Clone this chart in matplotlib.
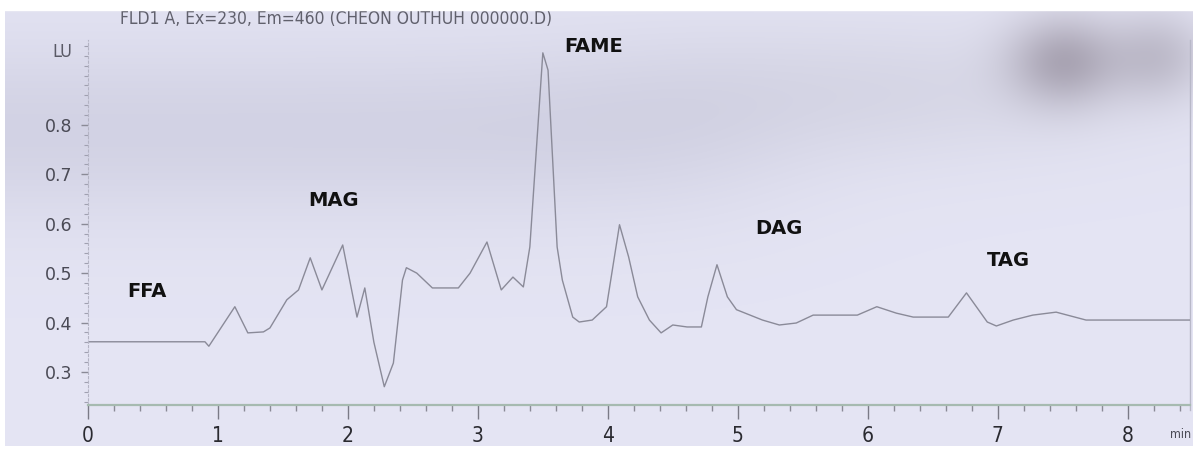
import numpy as np
import matplotlib
matplotlib.use("Agg")
import matplotlib.pyplot as plt
from matplotlib.ticker import MultipleLocator, FixedLocator

# ---- data ----
time_min = [0.00, 0.90, 0.93, 1.13, 1.23, 1.35, 1.40, 1.53, 1.62, 1.71, 1.80, 1.96,
            2.07, 2.13, 2.20, 2.28, 2.35, 2.42, 2.45, 2.53, 2.65, 2.85, 2.94, 3.07,
            3.18, 3.27, 3.35, 3.40, 3.50, 3.54, 3.61, 3.65, 3.73, 3.78, 3.88, 3.99,
            4.09, 4.16, 4.23, 4.32, 4.41, 4.50, 4.61, 4.72, 4.77, 4.84, 4.92, 4.99,
            5.19, 5.32, 5.45, 5.58, 5.92, 6.07, 6.22, 6.35, 6.62, 6.76, 6.92, 6.99,
            7.12, 7.27, 7.45, 7.68, 8.48]
signal_lu = [0.361, 0.361, 0.352, 0.432, 0.379, 0.381, 0.389, 0.446, 0.466, 0.531, 0.466, 0.557,
             0.411, 0.470, 0.360, 0.270, 0.318, 0.486, 0.511, 0.500, 0.470, 0.470, 0.500, 0.563,
             0.466, 0.492, 0.472, 0.553, 0.946, 0.911, 0.553, 0.486, 0.411, 0.401, 0.405, 0.432,
             0.598, 0.533, 0.452, 0.405, 0.379, 0.395, 0.391, 0.391, 0.452, 0.517, 0.452, 0.426,
             0.405, 0.395, 0.399, 0.415, 0.415, 0.432, 0.419, 0.411, 0.411, 0.460, 0.401, 0.393,
             0.405, 0.415, 0.421, 0.405, 0.405]

peak_labels = ["FFA", "MAG", "FAME", "DAG", "TAG"]
label_time = [0.45, 1.89, 3.89, 5.32, 7.08]
label_lu = [0.463, 0.648, 0.958, 0.590, 0.526]

x_ticks = [0, 1, 2, 3, 4, 5, 6, 7, 8]
x_ticklabels = ["0", "1", "2", "3", "4", "5", "6", "7", "8"]
y_ticks = [0.3, 0.4, 0.5, 0.6, 0.7, 0.8]
y_ticklabels = ["0.3", "0.4", "0.5", "0.6", "0.7", "0.8"]
title_text = "FLD1 A, Ex=230, Em=460 (CHEON OUTHUH 000000.D)"

W, H = 1193, 449
fig = plt.figure(figsize=(W / 100, H / 100), dpi=100)
fig.patch.set_facecolor("white")

def fy(py):
    return 1 - py / H

NARROW = dict(family="DejaVu Sans", stretch="condensed")

# ---- scanned paper background ----
bg = fig.add_axes([5 / W, 3 / H, (W - 5) / W, (446 - 10) / H])
bg.set_xlim(5, W)
bg.set_ylim(446, 10)
bg.axis("off")
gx, gy = np.meshgrid(np.linspace(5, W, 400), np.linspace(10, 446, 200))
base = np.array([0.895, 0.895, 0.955])
img = np.ones((200, 400, 3)) * base
band = np.exp(-((gy - 130) / 90.0) ** 2) * (1 / (1 + np.exp((gx - 760) / 60.0)))
img -= band[..., None] * np.array([0.07, 0.07, 0.06])
band2 = np.exp(-((gy - 90) / 70.0) ** 2) * np.exp(-((gx - 900) / 250.0) ** 2)
img -= band2[..., None] * np.array([0.05, 0.05, 0.05])
blob = np.exp(-(((gx - 1065) / 55.0) ** 2 + ((gy - 60) / 45.0) ** 2))
img -= blob[..., None] * np.array([0.20, 0.22, 0.22])
blob2 = np.exp(-(((gx - 1160) / 50.0) ** 2 + ((gy - 55) / 45.0) ** 2))
img -= blob2[..., None] * np.array([0.13, 0.14, 0.14])
img = np.clip(img, 0, 1)
bg.imshow(img, extent=[5, W, 446, 10], aspect="auto", interpolation="bilinear")
bg.plot([1190, 1190], [40, 410], color="#b8b8c8", lw=1)
bg.text(120, 24, title_text, fontsize=12.5, color="#60606c", va="baseline", ha="left",
        **NARROW)

# white strip that cuts off the top of the title (scan edge)
fig.add_artist(plt.Rectangle((0, fy(10)), 1, 10 / H, transform=fig.transFigure,
                             color="white", zorder=20))

# ---- chromatogram axes ----
ax = fig.add_axes([88 / W, fy(405), (1190 - 88) / W, (405 - 40) / H])
ax.patch.set_alpha(0)
ax.set_xlim(0, 8.48)
ax.set_ylim(0.233, 0.972)
ax.plot(time_min, signal_lu, color="#8a8a98", lw=1.0)

for lab, t, v in zip(peak_labels, label_time, label_lu):
    ax.text(t, v, lab, fontsize=14, fontweight="bold", color="#111111",
            ha="center", va="center", family="DejaVu Sans")

for s in ["top", "right"]:
    ax.spines[s].set_visible(False)
ax.spines["bottom"].set_color("#a6bab0")
ax.spines["bottom"].set_linewidth(1.6)
ax.spines["left"].set_color("#b4b4c4")
ax.spines["left"].set_linewidth(0.8)
ax.spines["left"].set_linestyle((0, (2, 2)))

ax.xaxis.set_major_locator(FixedLocator(x_ticks))
ax.set_xticklabels(x_ticklabels)
ax.xaxis.set_minor_locator(MultipleLocator(0.2))
ax.tick_params(axis="x", which="major", length=10, width=1, color="#7a7a86",
               pad=5, labelsize=15, labelcolor="#2a2a30")
ax.tick_params(axis="x", which="minor", length=4, width=1, color="#8a8a96")
for lbl in ax.get_xticklabels():
    lbl.set_family("DejaVu Sans")
    lbl.set_stretch("condensed")

ax.yaxis.set_major_locator(FixedLocator(y_ticks))
ax.set_yticklabels(y_ticklabels)
ax.yaxis.set_minor_locator(MultipleLocator(0.02))
ax.tick_params(axis="y", which="major", length=5, width=1, color="#8a8a96",
               pad=6, labelsize=12.5, labelcolor="#4a4a55")
ax.tick_params(axis="y", which="minor", length=3, width=0.8, color="#a0a0b0")

fig.text(62 / W, fy(52), "LU", fontsize=13, color="#5a5a66", ha="center", va="center",
         **NARROW)
fig.text(1181 / W, fy(434), "min", fontsize=9, color="#4a4a55", ha="center", va="center",
         **NARROW)

fig.savefig("out.png", dpi=100, facecolor=fig.get_facecolor())
